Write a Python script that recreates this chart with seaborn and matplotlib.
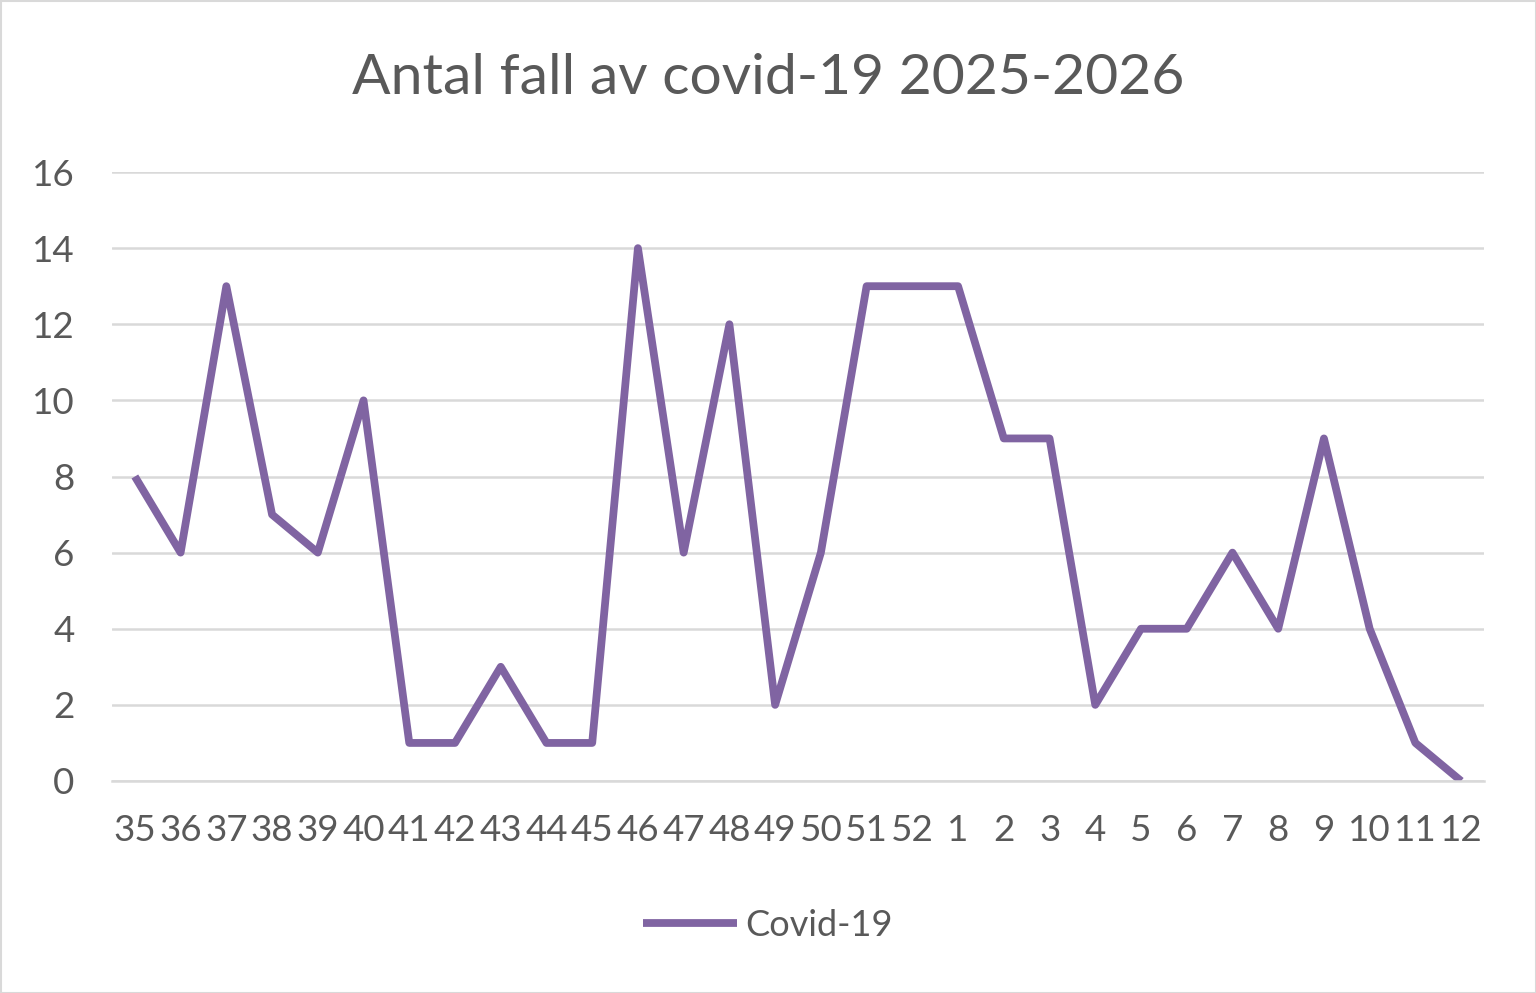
import matplotlib
matplotlib.use("Agg")
import matplotlib.pyplot as plt
import seaborn as sns
import numpy as np
import pandas as pd
from matplotlib.patches import Rectangle

weeks = ["35", "36", "37", "38", "39", "40", "41", "42", "43", "44", "45", "46", "47", "48",
         "49", "50", "51", "52", "1", "2", "3", "4", "5", "6", "7", "8", "9", "10", "11", "12"]
cases = [8, 6, 13, 7, 6, 10, 1, 1, 3, 1, 1, 14, 6, 12, 2, 6, 13, 13, 13, 9, 9, 2, 4, 4, 6, 4, 9, 4, 1, 0]
series_name = "Covid-19"
title = "Antal fall av covid-19 2025-2026"
y_ticks = [0, 2, 4, 6, 8, 10, 12, 14, 16]

sns.set_theme(style="white")
plt.rcParams['font.family'] = ['Lato', 'DejaVu Sans']

text_color = "#595959"
grid_color = "#D9D9D9"
line_color = "#8064A2"

df = pd.DataFrame({"pos": np.arange(len(weeks)), "cases": cases, "series": series_name})

fig = plt.figure(figsize=(15.36, 9.93), dpi=100)
W, H = 1536, 993
ax = fig.add_axes([112 / W, 1 - 781 / H, (1484 - 112) / W, (781 - 172) / H])

sns.lineplot(data=df, x="pos", y="cases", ax=ax, color=line_color, linewidth=5.6,
             label=series_name, legend=False)
for l in ax.lines:
    l.set_solid_joinstyle("round")
    l.set_solid_capstyle("butt")

ax.set_xlim(-0.5, len(weeks) - 0.5)
ax.set_ylim(0, 16)
ax.set_yticks(y_ticks)
ax.set_xticks(np.arange(len(weeks)))
ax.set_xticklabels(weeks)
ax.yaxis.grid(True, color=grid_color, linewidth=1.8)
ax.set_axisbelow(True)
for s in ["top", "right", "left"]:
    ax.spines[s].set_visible(False)
ax.spines["bottom"].set_color(grid_color)
ax.spines["bottom"].set_linewidth(1.8)
ax.tick_params(axis="both", length=0, labelsize=26.5, colors=text_color)
ax.tick_params(axis="y", pad=27)
ax.tick_params(axis="x", pad=24)
ax.set_xlabel("")
ax.set_ylabel("")

fig.text(0.5, 1 - 78 / H, title, ha="center", va="center", fontsize=41, color=text_color)

handles, labels = ax.get_legend_handles_labels()
leg = fig.legend(handles, labels, loc="center", bbox_to_anchor=(0.5, 1 - 925 / H),
                 frameon=False, fontsize=26, handlelength=2.6, handletextpad=0.25)
for t in leg.get_texts():
    t.set_color(text_color)

fig.patches.append(Rectangle((0.5 / W, 0.5 / H), 1 - 1 / W, 1 - 1 / H, transform=fig.transFigure,
                             fill=False, edgecolor="#D9D9D9", linewidth=1.5))

fig.savefig("out.png", dpi=100, facecolor="white")
